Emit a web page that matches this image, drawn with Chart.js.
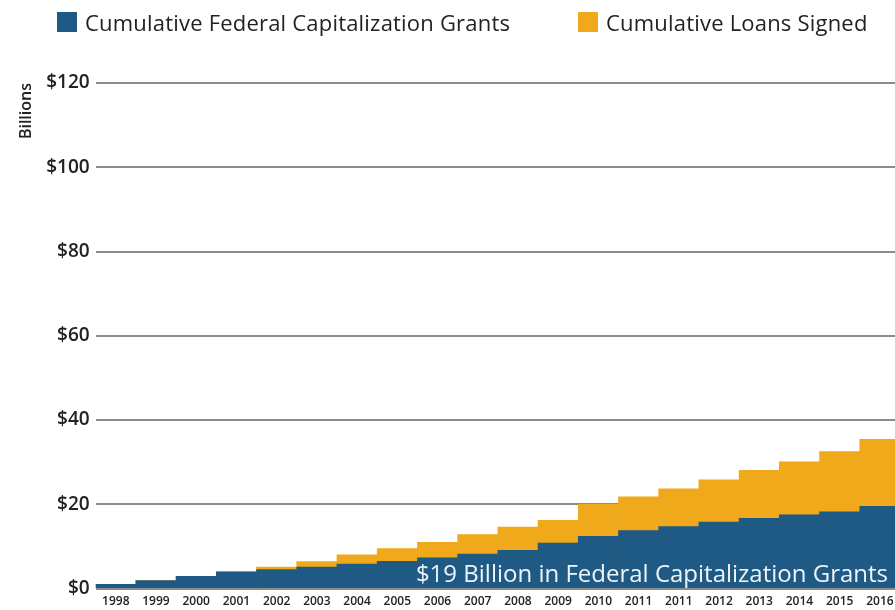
<!DOCTYPE html>
<html>
<head>
<meta charset="utf-8">
<script src="https://cdn.jsdelivr.net/npm/chart.js@4/dist/chart.umd.min.js"></script>
<style>
  html, body { margin: 0; padding: 0; background: #fff; overflow: hidden; }
  .wrap { position: relative; width: 905px; height: 610px; }
  .legend { position: absolute; top: 12px; left: 0; height: 20px;
    font-family: "Open Sans", "Noto Sans", sans-serif; font-size: 22px; letter-spacing: 0.2px; color: #222; }
  .legend .item { position: absolute; top: 0; white-space: nowrap; line-height: 20px; }
  .legend .box { display: inline-block; width: 20px; height: 20px; vertical-align: top; margin-right: 8px; }
</style>
</head>
<body>
<div class="wrap">
  <canvas id="chart"></canvas>
  <div class="legend" id="legend"></div>
</div>
<script>
// fiscal years on the x axis (2011 shows up twice in the original)
var years = ['1998', '1999', '2000', '2001', '2002', '2003', '2004', '2005', '2006', '2007',
  '2008', '2009', '2010', '2011', '2011', '2012', '2013', '2014', '2015', '2016'];

// billions of dollars
var grants = [1.0, 1.9, 2.9, 3.9, 4.5, 5.1, 5.8, 6.5, 7.3, 8.2,
  9.1, 10.8, 12.4, 13.8, 14.7, 15.8, 16.7, 17.5, 18.2, 19.5];
var loans = [1.0, 1.9, 2.9, 4.1, 5.1, 6.4, 8.0, 9.5, 11.0, 12.8,
  14.6, 16.2, 20.0, 21.8, 23.7, 25.8, 28.1, 30.1, 32.5, 35.4];

var yTicks = [0, 20, 40, 60, 80, 100, 120];

var seriesNames = ['Cumulative Federal Capitalization Grants', 'Cumulative Loans Signed'];
var seriesColors = ['#1f5a85', '#f0a91b'];
var note = '$19 Billion in Federal Capitalization Grants';

var FONT = '"Open Sans", "Noto Sans", sans-serif';

// legend drawn as html so the two items can sit where the original has them
var legendLeft = [57, 578];
var legendEl = document.getElementById('legend');
seriesNames.forEach(function(name, i) {
  var item = document.createElement('div');
  item.className = 'item';
  item.style.left = legendLeft[i] + 'px';
  item.innerHTML = '<span class="box" style="background:' + seriesColors[i] + '"></span>' + name;
  legendEl.appendChild(item);
});

// white caption sitting inside the blue area, bottom right
var notePlugin = {
  id: 'note',
  afterDatasetsDraw: function(chart) {
    var ctx = chart.ctx, area = chart.chartArea;
    ctx.save();
    ctx.font = '24px ' + FONT;
    ctx.fillStyle = '#eef4fa';
    ctx.textAlign = 'right';
    ctx.textBaseline = 'alphabetic';
    ctx.fillText(note, area.right - 12, area.bottom - 7);
    ctx.restore();
  }
};

var ctx = document.getElementById('chart').getContext('2d');
var chart = new Chart(ctx, {
  type: 'bar',
  data: {
    labels: years,
    datasets: [
      { label: seriesNames[0], data: grants, backgroundColor: seriesColors[0], borderWidth: 0 },
      { label: seriesNames[1], data: loans, backgroundColor: seriesColors[1], borderWidth: 0 }
    ]
  },
  options: {
    responsive: true,
    maintainAspectRatio: false,
    animation: false,
    layout: { padding: { left: 17, right: 5, top: 83, bottom: -5 } },
    datasets: { bar: { barPercentage: 1.0, categoryPercentage: 1.0 } },
    plugins: {
      tooltip: { enabled: false },
      legend: { display: false }
    },
    scales: {
      x: {
        stacked: true,
        grid: { display: false, drawTicks: false },
        border: { display: false },
        ticks: {
          autoSkip: false,
          maxRotation: 0,
          padding: 6,
          color: '#222',
          font: { family: FONT, size: 12, weight: '600' }
        }
      },
      y: {
        stacked: false,
        min: 0,
        max: 120,
        afterBuildTicks: function(axis) {
          axis.ticks = yTicks.map(function(v) { return { value: v }; });
        },
        grid: { color: '#8c8c8c', lineWidth: 2, drawTicks: false },
        border: { display: false },
        title: {
          display: true,
          text: 'Billions',
          align: 'end',
          color: '#222',
          font: { family: FONT, size: 16, weight: '600' },
          padding: { top: 0, bottom: 4 }
        },
        ticks: {
          padding: 6,
          color: '#222',
          font: { family: FONT, size: 19, weight: '600' },
          callback: function(v) { return '$' + v; }
        }
      }
    }
  },
  plugins: [notePlugin]
});
</script>
</body>
</html>
